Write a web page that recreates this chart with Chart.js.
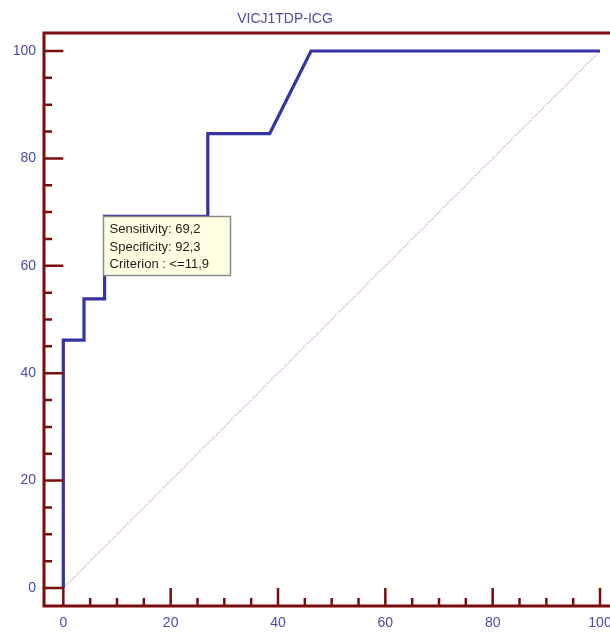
<!DOCTYPE html>
<html>
<head>
<meta charset="utf-8">
<title>VICJ1TDP-ICG</title>
<script src="https://cdn.jsdelivr.net/npm/chart.js@4/dist/chart.umd.min.js"></script>
<style>
  html, body { margin: 0; padding: 0; background: #ffffff; }
  #roc { display: block; }
</style>
</head>
<body>
<canvas id="roc" width="610" height="632"></canvas>
<script>
// ROC curve: 100-Specificity (x) against Sensitivity (y)
const chartTitle = 'VICJ1TDP-ICG';
const falsePositiveRate = [0, 0, 3.85, 3.85, 7.69, 7.69, 26.92, 26.92, 38.46, 46.15, 100];
const sensitivity       = [0, 46.15, 46.15, 53.85, 53.85, 69.23, 69.23, 84.62, 84.62, 100, 100];
const referenceX = [0, 100];
const referenceY = [0, 100];
const majorTicks = [0, 20, 40, 60, 80, 100];
const minorTicks = [5, 10, 15, 25, 30, 35, 45, 50, 55, 65, 70, 75, 85, 90, 95];
const tickLabels = ['0', '20', '40', '60', '80', '100'];
// optimal criterion point
const criterionPoint = { x: 7.69, y: 69.23 };
const criterionLines = ['Sensitivity: 69,2', 'Specificity: 92,3', 'Criterion : <=11,9'];

const AXIS = '#7a0c0c';
const LABEL = '#4b4ba6';
const FONT = '"Liberation Sans", Arial, sans-serif';

const rocFrame = {
  id: 'rocFrame',
  afterDatasetsDraw(chart) {
    const ctx = chart.ctx;
    const xs = chart.scales.x, ys = chart.scales.y;
    const area = chart.chartArea;
    const x0 = xs.getPixelForValue(0);
    const y0 = ys.getPixelForValue(0);
    const left = area.left, bottom = area.bottom, top = area.top;

    ctx.save();
    // criterion box, anchored at its point on the curve
    const bx = Math.round(xs.getPixelForValue(criterionPoint.x)) - 1.5;
    const by = Math.round(ys.getPixelForValue(criterionPoint.y)) + 0.5;
    ctx.fillStyle = '#ffffe1';
    ctx.fillRect(bx, by, 127, 59);
    ctx.strokeStyle = '#8c8c8c';
    ctx.lineWidth = 1.5;
    ctx.strokeRect(bx, by, 127, 59);
    ctx.fillStyle = '#1e1e1e';
    ctx.font = '13px ' + FONT;
    ctx.textAlign = 'left';
    ctx.textBaseline = 'middle';
    criterionLines.forEach((t, i) => ctx.fillText(t, bx + 6, by + 13 + i * 17.6));

    // axis frame
    ctx.strokeStyle = AXIS;
    ctx.lineWidth = 3;
    ctx.lineCap = 'butt';
    ctx.beginPath();
    ctx.moveTo(chart.width, top);
    ctx.lineTo(left, top);
    ctx.lineTo(left, bottom + 1.5);
    ctx.moveTo(left - 1.5, bottom);
    ctx.lineTo(chart.width, bottom);
    ctx.stroke();

    // ticks, pointing into the plot
    ctx.lineWidth = 2.5;
    ctx.beginPath();
    majorTicks.forEach(v => {
      const py = ys.getPixelForValue(v);
      ctx.moveTo(left, py); ctx.lineTo(x0, py);
      const px = xs.getPixelForValue(v);
      ctx.moveTo(px, bottom); ctx.lineTo(px, y0);
    });
    minorTicks.forEach(v => {
      const py = ys.getPixelForValue(v);
      ctx.moveTo(left, py); ctx.lineTo(left + 8, py);
      const px = xs.getPixelForValue(v);
      ctx.moveTo(px, bottom); ctx.lineTo(px, bottom - 8);
    });
    ctx.stroke();

    // tick labels
    ctx.fillStyle = LABEL;
    ctx.font = '14px ' + FONT;
    ctx.textBaseline = 'middle';
    ctx.textAlign = 'right';
    majorTicks.forEach((v, i) => ctx.fillText(tickLabels[i], left - 8, ys.getPixelForValue(v)));
    ctx.textAlign = 'center';
    majorTicks.forEach((v, i) => ctx.fillText(tickLabels[i], xs.getPixelForValue(v), bottom + 17));

    // title
    ctx.font = '14px ' + FONT;
    ctx.fillText(chartTitle, 285, 19);
    ctx.restore();
  }
};

new Chart(document.getElementById('roc'), {
  type: 'line',
  data: {
    datasets: [
      {
        label: 'Reference',
        data: referenceX.map((x, i) => ({ x, y: referenceY[i] })),
        borderColor: 'rgba(200, 110, 110, 0.75)',
        borderWidth: 1,
        borderDash: [2, 1],
        pointRadius: 0,
        order: 2
      },
      {
        label: chartTitle,
        data: falsePositiveRate.map((x, i) => ({ x, y: sensitivity[i] })),
        borderColor: '#3434a2',
        borderWidth: 3.2,
        borderJoinStyle: 'miter',
        pointRadius: 0,
        tension: 0,
        order: 1
      }
    ]
  },
  options: {
    responsive: false,
    devicePixelRatio: 1,
    animation: false,
    layout: { padding: { left: 44, top: 33, right: 0, bottom: 26 } },
    plugins: { legend: { display: false }, tooltip: { enabled: false }, title: { display: false } },
    scales: {
      x: { type: 'linear', display: false, min: -3.6, max: 101.86 },
      y: { type: 'linear', display: false, min: -3.35, max: 103.35 }
    }
  },
  plugins: [rocFrame]
});
</script>
</body>
</html>
